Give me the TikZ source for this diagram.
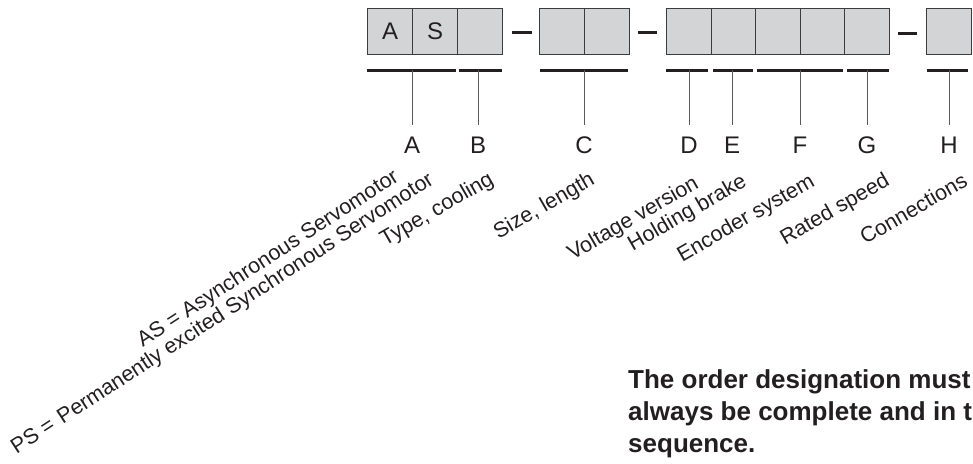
\documentclass[tikz,border=0pt]{standalone}
\usepackage{fontspec}
\setmainfont{Liberation Sans}
\definecolor{boxfill}{RGB}{211,212,214}
\definecolor{boxline}{RGB}{60,60,60}
\definecolor{ink}{RGB}{35,31,32}
\definecolor{tickc}{RGB}{90,90,90}
\begin{document}
\begin{tikzpicture}[x=1pt,y=-1pt,
  cell/.style={draw=boxline, fill=boxfill, line width=1pt, minimum width=45pt,
    minimum height=46pt, inner sep=0pt, anchor=north west, text=ink,
    font=\fontsize{24}{28}\selectfont},
  cellb/.style={cell, minimum width=44.6pt},
  bar/.style={draw=ink, line width=3pt},
  tick/.style={draw=tickc, line width=1pt, shorten >=11pt},
  letter/.style={anchor=base, inner sep=0pt, text=ink, font=\fontsize{24}{28}\selectfont},
  lblbase/.style={anchor=base east, inner sep=0pt, text=ink, font=\fontsize{21.5}{26}\selectfont},
  lbl/.style={lblbase, rotate=30},
  lbll/.style={lblbase, rotate=33},
  note/.style={anchor=base west, inner sep=0pt, text=ink, font=\fontsize{26}{32}\selectfont\bfseries}]
\useasboundingbox (0,0) rectangle (973,463);
\clip (0,0) rectangle (973,463);
% boxes
\node[cell] (c1) at (367,7.5) {A};
\node[cell] (c2) at (412,7.5) {S};
\node[cell] (c3) at (457,7.5) {};
\node[cell] (c4) at (539,7.5) {};
\node[cell] (c5) at (584,7.5) {};
\node[cellb] (c6) at (666,7.5) {};
\node[cellb] (c7) at (710.6,7.5) {};
\node[cellb] (c8) at (755.2,7.5) {};
\node[cellb] (c9) at (799.8,7.5) {};
\node[cellb] (c10) at (844.4,7.5) {};
\node[cell] (c11) at (926,7.5) {};
% dashes
\coordinate (d1a) at (512,32.5); \coordinate (d1b) at (532,32.5);
\coordinate (d2a) at (638,32.5); \coordinate (d2b) at (657,32.5);
\coordinate (d3a) at (898,33.5); \coordinate (d3b) at (917,33.5);
\draw[bar] (d1a) -- (d1b);
\draw[bar] (d2a) -- (d2b);
\draw[bar] (d3a) -- (d3b);
% underline bars
\coordinate (bAa) at (367,70); \coordinate (bAb) at (456,70);
\coordinate (bBa) at (459,70); \coordinate (bBb) at (502,70);
\coordinate (bCa) at (540,70); \coordinate (bCb) at (628,70);
\coordinate (bDa) at (666,70); \coordinate (bDb) at (708,70);
\coordinate (bEa) at (713,70); \coordinate (bEb) at (753,70);
\coordinate (bFa) at (757,70); \coordinate (bFb) at (843,70);
\coordinate (bGa) at (847,70); \coordinate (bGb) at (889,70);
\coordinate (bHa) at (927,70); \coordinate (bHb) at (968,70);
\foreach \b in {A,B,C,D,E,F,G,H} {\draw[bar] (b\b a) -- (b\b b);}
% tick origins
\coordinate (tA) at (412,70); \coordinate (tB) at (478,70);
\coordinate (tC) at (584,70); \coordinate (tD) at (689,70);
\coordinate (tE) at (732,70); \coordinate (tF) at (800,70);
\coordinate (tG) at (867,70); \coordinate (tH) at (949,70);
% letters
\node[letter] (A) at (412,153) {A};
\node[letter] (B) at (478,153) {B};
\node[letter] (C) at (584,153) {C};
\node[letter] (D) at (689,153) {D};
\node[letter] (E) at (732,153) {E};
\node[letter] (F) at (800,153) {F};
\node[letter] (G) at (867,153) {G};
\node[letter] (H) at (949,153) {H};
\foreach \l in {A,B,C,D,E,F,G,H} {\draw[tick] (t\l) -- (\l.north);}
% rotated labels
\node[lbll] (lAS) at (400,180) {AS = Asynchronous Servomotor};
\node[lbll] (lPS) at (435,183) {PS =\hspace{2pt} Permanently excited Synchronous Servomotor};
\node[lbl] (lB) at (495,183) {Type, cooling};
\node[lbl] (lC) at (596,183) {Size, length};
\node[lbl] (lD) at (700,187) {Voltage version};
\node[lbl] (lE) at (748,185) {Holding brake};
\node[lbl] (lF) at (816,185) {Encoder system};
\node[lbl] (lG) at (891,184) {Rated speed};
\node[lbl] (lH) at (969,185) {Connections};
% note
\node[note] (n1) at (628,388) {The order designation must};
\node[note] (n2) at (628,420) {always be complete and in the};
\node[note] (n3) at (628,452) {sequence.};
\end{tikzpicture}
\end{document}
